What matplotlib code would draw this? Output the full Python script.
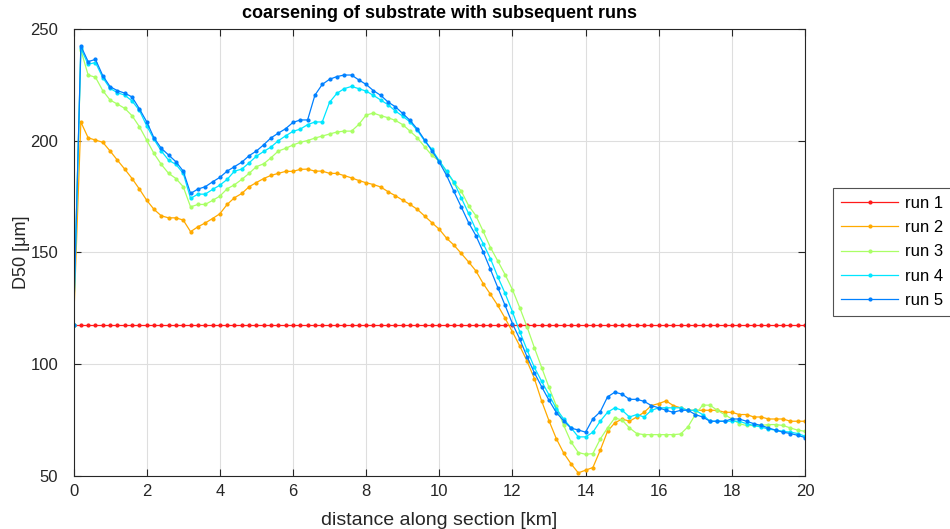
"""D50 along the section for five subsequent model runs (MATLAB-style line plot)."""
import numpy as np
import matplotlib
matplotlib.use("Agg")
import matplotlib.pyplot as plt

plt.rcParams["font.family"] = ["Liberation Sans", "DejaVu Sans"]

# distance along section [km], one node every 0.2 km
distance = np.linspace(0, 20, 101)

run1 = [117.4] * 101

run2 = [
    117.4, 208.4, 201.3, 200.3, 199.3, 195.4, 191.3, 187.3, 183.1, 178.4,
    173.4, 169.3, 166.4, 165.5, 165.5, 164.5, 159.3, 161.5, 163.2, 165.2,
    167.3, 171.5, 174.5, 176.4, 179.4, 181.3, 183.1, 184.5, 185.4, 186.3,
    186.3, 187.2, 187.3, 186.4, 186.4, 185.4, 185.4, 184.4, 183.4, 182.2,
    181.2, 180.4, 179.3, 177.2, 175.4, 173.4, 171.5, 169.3, 166.3, 163.3,
    160.4, 156.4, 153.3, 149.6, 145.8, 141.8, 136.1, 131.3, 126.3, 120.6,
    114.5, 108.2, 101.4, 93.6, 83.5, 74.7, 66.7, 60.3, 55.5, 51.4,
    52.6, 53.8, 61.5, 70.0, 73.8, 75.5, 74.5, 76.4, 78.5, 81.5,
    82.4, 83.6, 81.5, 80.5, 79.4, 79.4, 79.4, 79.4, 79.4, 78.5,
    78.5, 77.5, 77.5, 76.4, 76.4, 75.5, 75.5, 75.5, 74.5, 74.5,
    74.5,
]

run3 = [
    117.4, 240.6, 229.4, 228.4, 222.4, 218.2, 216.4, 214.5, 211.2, 206.3,
    200.3, 194.3, 189.4, 185.4, 183.1, 179.4, 170.4, 171.5, 171.5, 173.3,
    175.2, 178.5, 180.3, 182.7, 185.4, 188.4, 189.7, 192.4, 195.4, 196.6,
    198.1, 199.3, 200.1, 201.2, 202.1, 203.0, 203.9, 204.3, 204.3, 207.3,
    211.5, 212.4, 211.2, 210.3, 209.1, 207.2, 204.3, 201.3, 197.3, 193.4,
    190.9, 186.0, 181.2, 177.5, 171.0, 166.5, 159.5, 152.2, 146.2, 140.1,
    133.4, 125.3, 116.7, 107.4, 98.5, 89.6, 81.4, 72.7, 65.3, 60.5,
    59.7, 60.0, 66.5, 71.5, 76.0, 75.0, 71.5, 69.0, 68.5, 68.5,
    68.5, 68.5, 68.5, 68.8, 72.0, 77.5, 81.7, 81.7, 79.4, 77.5,
    75.5, 73.4, 72.6, 72.6, 72.6, 73.0, 73.0, 72.6, 71.5, 70.5,
    70.0,
]

run4 = [
    117.4, 241.3, 234.2, 235.0, 228.2, 223.4, 221.5, 220.4, 217.8, 213.6,
    206.7, 200.6, 195.4, 191.3, 189.4, 185.4, 174.2, 176.1, 176.1, 178.2,
    180.1, 182.7, 186.4, 187.3, 190.1, 193.1, 195.2, 197.2, 200.0, 202.2,
    204.2, 205.2, 207.2, 208.4, 208.4, 217.2, 221.2, 223.3, 224.3, 223.3,
    222.2, 220.3, 218.2, 216.1, 213.3, 211.0, 208.4, 204.6, 199.9, 196.1,
    191.0, 186.4, 181.5, 174.5, 167.5, 160.3, 154.0, 147.2, 139.1, 131.7,
    123.5, 114.6, 106.4, 98.6, 92.3, 86.3, 80.1, 75.5, 71.6, 67.5,
    67.5, 69.6, 74.5, 78.5, 80.5, 79.4, 76.4, 77.5, 76.4, 79.4,
    80.5, 80.5, 80.5, 80.5, 79.4, 79.4, 77.5, 74.5, 74.5, 74.5,
    74.5, 74.5, 73.4, 72.6, 71.9, 71.0, 70.5, 70.0, 69.6, 69.0,
    67.8,
]

run5 = [
    117.4, 242.4, 235.4, 236.4, 229.1, 224.2, 222.4, 221.3, 219.6, 214.3,
    208.5, 201.3, 196.6, 193.6, 190.6, 186.4, 176.4, 178.4, 179.4, 181.6,
    183.6, 186.4, 188.4, 190.4, 193.3, 195.4, 198.2, 201.3, 203.4, 205.4,
    208.2, 209.3, 209.3, 220.4, 225.2, 227.5, 228.7, 229.4, 229.4, 227.2,
    225.2, 222.4, 220.3, 217.3, 215.2, 212.2, 209.1, 205.2, 200.3, 195.5,
    190.4, 184.5, 177.3, 170.4, 163.4, 157.6, 150.3, 142.4, 134.3, 126.3,
    118.2, 111.3, 103.3, 96.2, 89.9, 83.9, 78.4, 74.7, 71.4, 70.6,
    69.6, 75.6, 78.7, 85.4, 87.5, 86.6, 84.3, 84.3, 83.4, 81.5,
    80.5, 79.4, 78.5, 79.4, 79.4, 77.5, 76.4, 74.5, 74.5, 74.5,
    75.5, 75.5, 74.5, 73.4, 72.6, 71.5, 70.5, 69.6, 69.0, 68.2,
    67.2,
]

labels = ["run 1", "run 2", "run 3", "run 4", "run 5"]
colors = ["#ff1a1a", "#ffaa00", "#aaff66", "#00e6ff", "#0080ff"]

fig = plt.figure(figsize=(9.5, 5.29), dpi=100)
ax = fig.add_axes([0.0774, 0.1002, 0.770, 0.845])

for vals, lab, col in zip([run1, run2, run3, run4, run5], labels, colors):
    ax.plot(distance, vals, "-", marker=".", color=col, lw=0.9, ms=4, label=lab)

ax.set_xlim(0, 20)
ax.set_ylim(50, 250)
ax.set_xticks(np.arange(0, 21, 2))
ax.set_yticks([50, 100, 150, 200, 250])
ax.grid(True, color="#dedede", lw=0.8)
ax.set_axisbelow(True)
ax.tick_params(direction="in", top=True, right=True, labelsize=12, length=5,
               color="#262626", labelcolor="#262626")
ax.tick_params(axis="y", pad=11)
ax.tick_params(axis="x", pad=6)
for s in ax.spines.values():
    s.set_color("#262626")
    s.set_linewidth(0.8)

ax.set_xlabel("distance along section [km]", fontsize=14, color="#262626",
              labelpad=9)
ax.set_ylabel("D50 [μm]", fontsize=13, color="#262626", labelpad=0)
ax.set_title("coarsening of substrate with subsequent runs", fontsize=13,
             fontweight="bold", pad=8)

leg = ax.legend(loc="upper left", bbox_to_anchor=(0.877, 0.645),
                bbox_transform=fig.transFigure, borderaxespad=0,
                fontsize=12, frameon=True, fancybox=False,
                edgecolor="#262626", handlelength=3.4, handletextpad=0.4,
                borderpad=0.5, labelspacing=0.55)
leg.get_frame().set_linewidth(0.8)

fig.savefig("out.png", dpi=100)
